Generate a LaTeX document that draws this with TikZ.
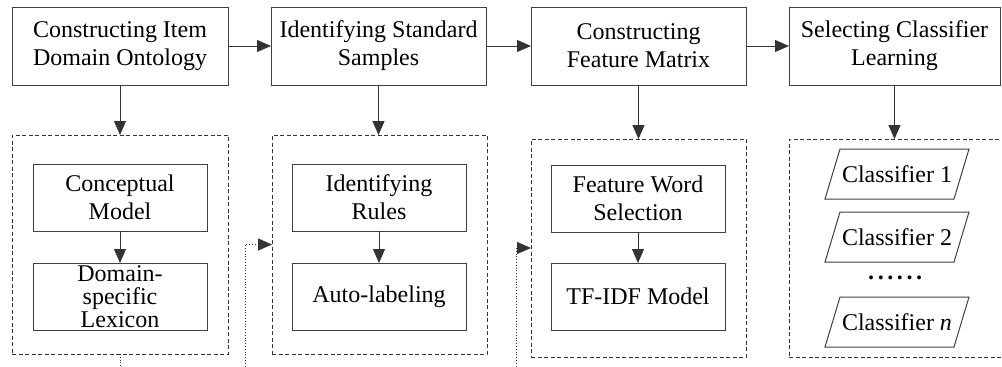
\documentclass[tikz,border=0pt]{standalone}
\usepackage{fontspec}
\setmainfont{Liberation Serif}
\usetikzlibrary{arrows.meta,calc}
\begin{document}
\begin{tikzpicture}[x=1pt,y=-1pt,
  every node/.style={inner sep=0pt, outer sep=0pt, align=center, font=\fontsize{24}{28}\selectfont},
  topbox/.style={draw=black!75, line width=1pt, minimum height=78pt},
  inbox/.style={draw=black!75, line width=1pt, minimum width=174pt, minimum height=67pt},
  dbox/.style={draw=black!80, line width=0.9pt, dash pattern=on 4pt off 2.5pt},
  parabox/.style={minimum width=144pt, minimum height=50pt},
  paraline/.style={draw=black!75, line width=1pt, line join=miter},
  arr/.style={line width=1pt, draw=black!80, -{Triangle[length=14pt,width=12pt]}},
  dotarr/.style={line width=0.8pt, draw=black!80, dotted, -{Triangle[length=14pt,width=12pt]}},
  dotln/.style={line width=0.8pt, draw=black!80, dotted}]
\useasboundingbox (0,0) rectangle (1002,367);
% top row
\node[topbox, minimum width=216pt] (t1) at (120,46) {Constructing Item\\Domain Ontology};
\node[topbox, minimum width=215pt] (t2) at (378.5,46) {Identifying Standard\\Samples};
\node[topbox, minimum width=215pt] (t3) at (638.5,46) {Constructing\\Feature Matrix};
\node[topbox, minimum width=211pt] (t4) at (894.5,46) {Selecting Classifier\\Learning};
% dashed containers
\node[dbox, minimum width=216pt, minimum height=219pt] (d1) at (120,244.5) {};
\node[dbox, minimum width=215pt, minimum height=219pt] (d2) at (379.5,244.5) {};
\node[dbox, minimum width=215pt, minimum height=218pt] (d3) at (638.5,248) {};
\node[dbox, minimum width=217pt, minimum height=218pt] (d4) at (897.5,248) {};
% inner boxes
\node[inbox] (c1) at (120,197.5) {Conceptual\\Model};
\node[inbox, font=\fontsize{24}{23}\selectfont] (l1) at (120,296.5) {Domain-\\specific\\Lexicon};
\node[inbox] (r1) at (379,197.5) {Identifying\\Rules};
\node[inbox] (a1) at (379,296.5) {Auto-labeling};
\node[inbox] (f1) at (638,198.5) {Feature Word\\Selection};
\node[inbox] (tf) at (638,296.5) {TF-IDF Model};
% classifiers
\foreach \nm/\yy/\tx in {p1/174/{Classifier 1}, p2/237/{Classifier 2}, p3/322/{Classifier \textit{n}}}{
  \node[parabox] (\nm) at (897,\yy) {\tx};
  \draw[paraline] (\nm.south west) -- ($(\nm.north west)+(15,0)$) -- (\nm.north east)
     -- ($(\nm.south east)+(-15,0)$) -- cycle;
}
\node (dots) at (897,278) {\addfontfeatures{LetterSpace=15}\textbf{......}};
% arrows top row
\draw[arr] (t1.east) -- (t2.west);
\draw[arr] (t2.east) -- (t3.west);
\draw[arr] (t3.east) -- (t4.west);
% down arrows
\draw[arr] (t1.south) -- (d1.north);
\draw[arr] (t2.south) -- (d2.north -| t2.south);
\draw[arr] (t3.south) -- (d3.north -| t3.south);
\draw[arr] (t4.south) -- (d4.north -| t4.south);
% inner arrows
\draw[arr] (c1.south) -- (l1.north);
\draw[arr] (r1.south) -- (a1.north);
\draw[arr] (f1.south) -- (tf.north);
% dotted feedback lines
\coordinate (e1) at (120,372);
\coordinate (s2) at (245,372);
\coordinate (s3) at (516,372);
\draw[dotln] (d1.south) -- (e1);
\draw[dotarr] (s2) |- (d2.west);
\draw[dotarr] (s3) |- (d3.west);
\end{tikzpicture}
\end{document}
